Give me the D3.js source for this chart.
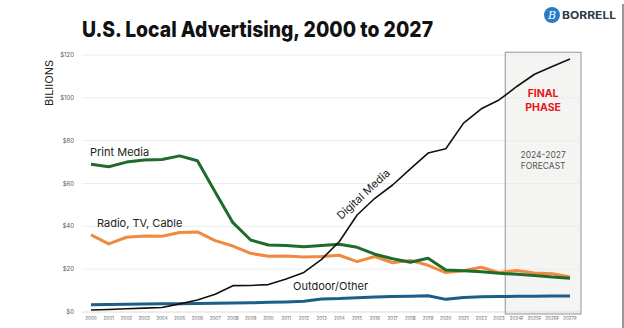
<!DOCTYPE html>
<html>
<head>
<meta charset="utf-8">
<title>U.S. Local Advertising, 2000 to 2027</title>
<script src="https://cdn.jsdelivr.net/npm/d3@7/dist/d3.min.js"></script>
<style>
    body { margin: 0; background: #fff; }
    svg { display: block; font-family: "Inter", "Noto Sans", sans-serif; }
</style>
</head>
<body>
<div id="chart"></div>
<script>

    // years on the x axis, forecast years carry an F
    var years = ['2000','2001','2002','2003','2004','2005','2006','2007','2008','2009',
                 '2010','2011','2012','2013','2014','2015','2016','2017','2018','2019',
                 '2020','2021','2022','2023','2024F','2025F','2026F','2027F'];

    // spend in billions of dollars
    var printMedia = [69.0, 67.8, 70.0, 71.0, 71.2, 72.9, 70.6, 56.0, 41.7, 33.6,
                      31.3, 31.0, 30.5, 31.0, 31.6, 30.2, 27.0, 24.9, 23.2, 25.1,
                      19.6, 19.3, 18.8, 18.1, 17.6, 17.0, 16.3, 15.8];
    var radioTvCable = [36.0, 31.8, 34.9, 35.5, 35.4, 37.1, 37.4, 33.3, 30.8, 27.4,
                        26.0, 26.2, 25.7, 25.9, 26.5, 23.5, 25.9, 23.0, 24.1, 21.8,
                        18.4, 19.3, 20.9, 18.4, 19.4, 18.2, 17.9, 16.3];
    var digitalMedia = [0.9, 1.2, 1.5, 1.8, 2.1, 3.8, 5.6, 8.3, 12.3, 12.4,
                        12.8, 15.4, 18.5, 24.6, 32.9, 45.3, 53.1, 59.3, 66.8, 74.2,
                        76.2, 88.2, 94.9, 99.0, 105.3, 111.0, 114.6, 118.1];
    var outdoorOther = [3.4, 3.5, 3.6, 3.7, 3.8, 3.9, 4.0, 4.1, 4.2, 4.3,
                        4.5, 4.7, 5.0, 6.1, 6.3, 6.7, 7.0, 7.2, 7.4, 7.6,
                        5.9, 6.8, 7.1, 7.2, 7.3, 7.4, 7.5, 7.5];

    var yTicks = [0, 20, 40, 60, 80, 100, 120];

    var series = [
        { name: 'Outdoor/Other',    values: outdoorOther, color: '#1b5f87', width: 3 },
        { name: 'Radio, TV, Cable', values: radioTvCable, color: '#ef8a3f', width: 3 },
        { name: 'Print Media',      values: printMedia,   color: '#1f6b2c', width: 3 },
        { name: 'Digital Media',    values: digitalMedia, color: '#111111', width: 1.6 }
    ];

    var svgWidth = 624;
    var svgHeight = 328;

    var svg = d3.select('#chart').append('svg')
        .attr('width', svgWidth)
        .attr('height', svgHeight);

    var x = d3.scalePoint().domain(years).range([91, 570]);
    var y = d3.scaleLinear().domain([0, 120]).range([312, 55]);
    var step = x.step();

    // title
    svg.append('text')
        .attr('x', 82)
        .attr('y', 37)
        .attr('textLength', 351)
        .attr('lengthAdjust', 'spacingAndGlyphs')
        .style('font-size', '22px')
        .style('font-weight', 800)
        .style('fill', '#111')
        .text('U.S. Local Advertising, 2000 to 2027');

    // logo
    var logo = svg.append('g');
    logo.append('circle')
        .attr('cx', 552).attr('cy', 15).attr('r', 8)
        .style('fill', '#2a7bc4');
    logo.append('text')
        .attr('x', 552).attr('y', 19)
        .style('text-anchor', 'middle')
        .style('font-size', '11px')
        .style('font-style', 'italic')
        .style('font-family', '"DejaVu Serif", serif')
        .style('fill', '#fff')
        .text('B');
    logo.append('text')
        .attr('x', 562).attr('y', 19)
        .attr('textLength', 54)
        .attr('lengthAdjust', 'spacingAndGlyphs')
        .style('font-size', '11px')
        .style('font-weight', 700)
        .style('fill', '#2d3b4a')
        .text('BORRELL');

    // frame edge on the right
    svg.append('line')
        .attr('x1', 623).attr('x2', 623)
        .attr('y1', 4).attr('y2', svgHeight)
        .style('stroke', '#333')
        .style('stroke-width', 1);

    // forecast panel
    var boxLeft = x('2023') + step * 0.35;
    var boxRight = x('2027F') + step * 0.62;
    var boxTop = y(121.3);
    var boxBottom = y(0) + 2;

    svg.append('rect')
        .attr('x', boxLeft).attr('y', boxTop)
        .attr('width', boxRight - boxLeft)
        .attr('height', boxBottom - boxTop)
        .style('fill', '#f4f4f3');

    // grid
    svg.append('g').selectAll('line')
        .data(yTicks)
        .enter().append('line')
            .attr('x1', 82).attr('x2', 580)
            .attr('y1', d => y(d)).attr('y2', d => y(d))
            .style('stroke', d => d === 0 ? '#dcdcdc' : '#ececec')
            .style('stroke-width', 1);

    svg.append('rect')
        .attr('x', boxLeft).attr('y', boxTop)
        .attr('width', boxRight - boxLeft)
        .attr('height', boxBottom - boxTop)
        .style('fill', 'none')
        .style('stroke', '#8797a8')
        .style('stroke-width', 1);

    // y tick labels
    svg.append('g').selectAll('text')
        .data(yTicks)
        .enter().append('text')
            .attr('x', 74)
            .attr('y', d => y(d) + 2)
            .style('text-anchor', 'end')
            .style('font-size', '6px')
            .style('fill', '#555')
            .text(d => '$' + d);

    // x tick labels
    svg.append('g').selectAll('text')
        .data(years)
        .enter().append('text')
            .attr('x', d => x(d))
            .attr('y', 320)
            .style('text-anchor', 'middle')
            .style('font-size', '4.6px')
            .style('fill', '#666')
            .text(d => d);

    // y axis title
    svg.append('text')
        .attr('transform', 'translate(53,83) rotate(-90)')
        .style('text-anchor', 'middle')
        .style('font-size', '11px')
        .style('fill', '#222')
        .text('BILIIONS');

    // lines
    var line = d3.line()
        .x((d, i) => x(years[i]))
        .y(d => y(d));

    svg.append('g').selectAll('path')
        .data(series)
        .enter().append('path')
            .attr('d', d => line(d.values))
            .style('fill', 'none')
            .style('stroke', d => d.color)
            .style('stroke-width', d => d.width)
            .style('stroke-linejoin', 'round');

    // series labels
    var labelStyle = sel => sel
        .style('font-size', '11px')
        .style('fill', '#222');

    svg.append('text').attr('x', 90).attr('y', 156)
        .call(labelStyle).text('Print Media');
    svg.append('text').attr('x', 97).attr('y', 227)
        .call(labelStyle).text('Radio, TV, Cable');
    svg.append('text').attr('x', 293).attr('y', 290)
        .call(labelStyle).text('Outdoor/Other');
    svg.append('text')
        .attr('transform', 'translate(366,197) rotate(-43)')
        .style('text-anchor', 'middle')
        .call(labelStyle).text('Digital Media');

    // forecast notes
    var midBox = (boxLeft + boxRight) / 2;
    svg.append('text')
        .attr('x', midBox).attr('y', 97)
        .style('text-anchor', 'middle')
        .style('font-size', '10.5px')
        .style('font-weight', 700)
        .style('fill', '#e8141b')
        .text('FINAL');
    svg.append('text')
        .attr('x', midBox).attr('y', 111)
        .style('text-anchor', 'middle')
        .style('font-size', '10.5px')
        .style('font-weight', 700)
        .style('fill', '#e8141b')
        .text('PHASE');
    svg.append('text')
        .attr('x', midBox).attr('y', 158)
        .style('text-anchor', 'middle')
        .style('font-size', '8.5px')
        .style('fill', '#555')
        .text('2024-2027');
    svg.append('text')
        .attr('x', midBox).attr('y', 169)
        .style('text-anchor', 'middle')
        .style('font-size', '8.5px')
        .style('fill', '#555')
        .text('FORECAST');

</script>
</body>
</html>
